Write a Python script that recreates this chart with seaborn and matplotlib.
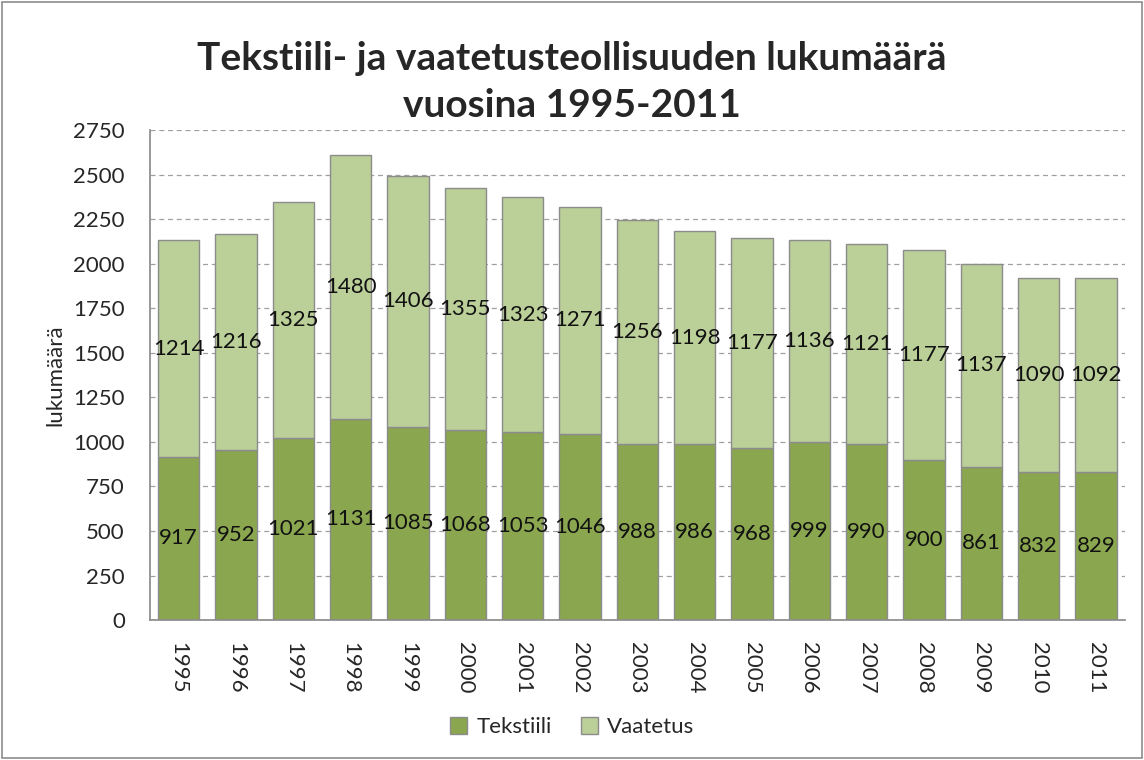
import matplotlib
matplotlib.use("Agg")
from matplotlib import pyplot as plt
from matplotlib.patches import Rectangle
import seaborn as sns
import pandas as pd

years = [str(y) for y in range(1995, 2012)]
tekstiili = [917, 952, 1021, 1131, 1085, 1068, 1053, 1046, 988, 986, 968, 999, 990, 900, 861, 832, 829]
vaatetus = [1214, 1216, 1325, 1480, 1406, 1355, 1323, 1271, 1256, 1198, 1177, 1136, 1121, 1177, 1137, 1090, 1092]

df = pd.DataFrame({'Vuosi': years, 'Tekstiili': tekstiili, 'Vaatetus': vaatetus})

dark_green = '#8AA64F'
light_green = '#BBCF98'

sns.set_theme(style="white")
plt.rcParams['font.family'] = ['Lato', 'DejaVu Sans']

fig = plt.figure(figsize=(11.44, 7.6), dpi=100)
ax = fig.add_axes([0.131, 0.184, 0.852, 0.645])

sns.barplot(data=df, x='Vuosi', y='Tekstiili', color=dark_green, width=0.72,
            edgecolor='#8c8c8c', linewidth=1, saturation=1, ax=ax, label='Tekstiili')
sns.barplot(data=df, x='Vuosi', y='Vaatetus', bottom=df['Tekstiili'], color=light_green, width=0.72,
            edgecolor='#8c8c8c', linewidth=1, saturation=1, ax=ax, label='Vaatetus')
if ax.get_legend() is not None:
    ax.get_legend().remove()

# value labels in the middle of each segment
for i, (t, v) in enumerate(zip(tekstiili, vaatetus)):
    ax.text(i, t / 2, str(t), ha='center', va='center', fontsize=16, color='#111111')
    ax.text(i, t + v / 2, str(v), ha='center', va='center', fontsize=16, color='#111111')

ax.set_ylim(0, 2750)
ax.set_yticks(range(0, 2751, 250))
ax.set_xlim(-0.5, len(years) - 0.5)
ax.yaxis.grid(True, linestyle=(0, (4, 3)), color='#a0a0a0', linewidth=0.9)
ax.set_axisbelow(True)
for side in ['top', 'right']:
    ax.spines[side].set_visible(False)
for side in ['left', 'bottom']:
    ax.spines[side].set_color('#8c8c8c')
ax.tick_params(axis='y', labelsize=16, left=False, pad=12)
ax.tick_params(axis='x', labelsize=16, bottom=False, pad=10)
plt.setp(ax.get_xticklabels(), rotation=270)
ax.set_xlabel('')
ax.set_ylabel('lukumäärä', fontsize=16, labelpad=6)

fig.text(0.5, 0.892, 'Tekstiili- ja vaatetusteollisuuden lukumäärä\nvuosina 1995-2011',
         ha='center', va='center', fontsize=28, fontweight='bold', linespacing=1.4)

handles, labels = ax.get_legend_handles_labels()
fig.legend(handles, labels, loc='center', bbox_to_anchor=(0.5, 0.043), ncol=2, frameon=False,
           fontsize=16, handlelength=0.8, handleheight=0.8, columnspacing=1.3, handletextpad=0.4)

fig.patches.append(Rectangle((0.002, 0.003), 0.996, 0.994, transform=fig.transFigure,
                             fill=False, edgecolor='#8c8c8c', linewidth=1.2))

plt.savefig('out.png', dpi=100)
